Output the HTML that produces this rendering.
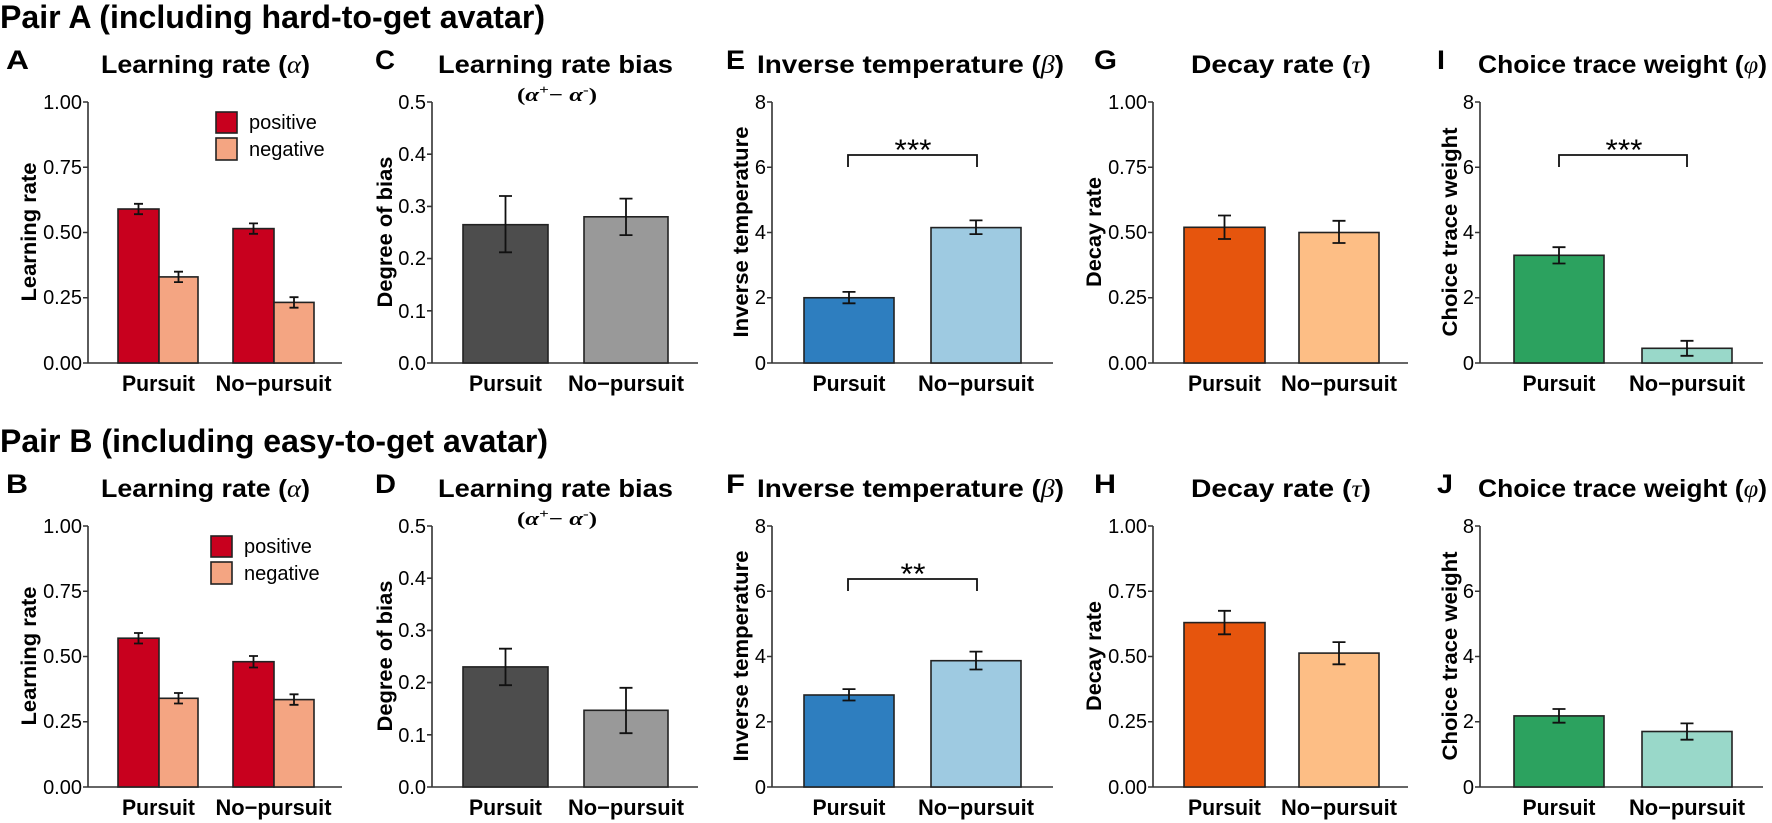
<!DOCTYPE html>
<html><head><meta charset="utf-8"><style>
html,body{margin:0;padding:0;background:#fff;}
svg{display:block;font-family:"Liberation Sans",Arial,sans-serif;}
.big{font-size:32px;font-weight:bold;}
.let{font-size:27px;font-weight:bold;}
.tt{font-size:25px;font-weight:bold;}
.tk{font-size:20px;}
.yl{font-size:21px;font-weight:bold;}
.xl{font-size:22px;font-weight:bold;}
.ax{stroke:#333;stroke-width:1.6;fill:none;}
.bar{stroke:#222;stroke-width:1.6;}
.eb{stroke:#111;stroke-width:1.8;fill:none;}
.br{stroke:#111;stroke-width:1.8;fill:none;}
.st{font-size:30px;}
</style></head><body>
<svg width="1772" height="823" viewBox="0 0 1772 823" xmlns="http://www.w3.org/2000/svg">

<!-- ============ ROW A ============ -->
<g>
<text class="big" x="0" y="28" textLength="545" lengthAdjust="spacingAndGlyphs">Pair A (including hard-to-get avatar)</text>
<text class="let" x="6" y="69" textLength="23" lengthAdjust="spacingAndGlyphs">A</text>
<text class="let" x="375" y="69" textLength="20" lengthAdjust="spacingAndGlyphs">C</text>
<text class="let" x="726" y="69" textLength="19" lengthAdjust="spacingAndGlyphs">E</text>
<text class="let" x="1094" y="69" textLength="23" lengthAdjust="spacingAndGlyphs">G</text>
<text class="let" x="1437" y="69" textLength="8" lengthAdjust="spacingAndGlyphs">I</text>

<text class="tt" x="101" y="73" textLength="209" lengthAdjust="spacingAndGlyphs">Learning rate (<tspan font-family="Liberation Serif" font-style="italic" font-weight="normal">α</tspan>)</text>
<text class="tt" x="438" y="73" textLength="235" lengthAdjust="spacingAndGlyphs">Learning rate bias</text>
<text x="517" y="101" font-size="19" font-weight="bold" font-family="Liberation Serif" textLength="80" lengthAdjust="spacingAndGlyphs">(<tspan font-style="italic">α</tspan><tspan dy="-7" font-size="13">+</tspan><tspan dy="7">− </tspan><tspan font-style="italic">α</tspan><tspan dy="-7" font-size="13">-</tspan><tspan dy="7">)</tspan></text>
<text class="tt" x="757" y="73" textLength="307" lengthAdjust="spacingAndGlyphs">Inverse temperature (<tspan font-family="Liberation Serif" font-style="italic" font-weight="normal">β</tspan>)</text>
<text class="tt" x="1191" y="73" textLength="180" lengthAdjust="spacingAndGlyphs">Decay rate (<tspan font-family="Liberation Serif" font-style="italic" font-weight="normal">τ</tspan>)</text>
<text class="tt" x="1478" y="73" textLength="289" lengthAdjust="spacingAndGlyphs">Choice trace weight (<tspan font-family="Liberation Serif" font-style="italic" font-weight="normal">φ</tspan>)</text>

<!-- Panel A -->
<text class="yl" transform="translate(36,232) rotate(-90)" text-anchor="middle" textLength="139" lengthAdjust="spacingAndGlyphs">Learning rate</text>
<g class="tk" text-anchor="end">
<text x="82" y="109">1.00</text><text x="82" y="174">0.75</text><text x="82" y="239">0.50</text><text x="82" y="304">0.25</text><text x="82" y="370">0.00</text>
</g>
<path class="ax" d="M88 102V363H342M83 102H88M83 167.25H88M83 232.5H88M83 297.75H88M83 363H88"/>
<rect class="bar" x="118" y="209" width="41" height="154" fill="#c8001e"/>
<rect class="bar" x="159" y="276.9" width="39" height="86.1" fill="#f4a582"/>
<rect class="bar" x="233" y="228.6" width="41" height="134.4" fill="#c8001e"/>
<rect class="bar" x="274" y="302.4" width="40" height="60.6" fill="#f4a582"/>
<path class="eb" d="M138.5 203.8V214.2M134 203.8H143M134 214.2H143M178.5 271.7V282.1M174 271.7H183M174 282.1H183M253.5 223.4V233.8M249 223.4H258M249 233.8H258M294 297.2V307.7M289.5 297.2H298.5M289.5 307.7H298.5"/>
<rect class="bar" x="216" y="112" width="21" height="21" fill="#c8001e"/>
<rect class="bar" x="216" y="138" width="21" height="22" fill="#f4a582"/>
<text class="tk" x="249" y="129">positive</text><text class="tk" x="249" y="156">negative</text>
<g class="xl" text-anchor="middle"><text x="158.5" y="391" textLength="73" lengthAdjust="spacingAndGlyphs">Pursuit</text><text x="273.5" y="391" textLength="116" lengthAdjust="spacingAndGlyphs">No−pursuit</text></g>

<!-- Panel C -->
<text class="yl" transform="translate(392,232) rotate(-90)" text-anchor="middle" textLength="151" lengthAdjust="spacingAndGlyphs">Degree of bias</text>
<g class="tk" text-anchor="end">
<text x="426" y="109">0.5</text><text x="426" y="161">0.4</text><text x="426" y="213">0.3</text><text x="426" y="265">0.2</text><text x="426" y="318">0.1</text><text x="426" y="370">0.0</text>
</g>
<path class="ax" d="M432 102V363H698M427 102H432M427 154.2H432M427 206.4H432M427 258.6H432M427 310.8H432M427 363H432"/>
<rect class="bar" x="463" y="224.7" width="85" height="138.3" fill="#4d4d4d"/>
<rect class="bar" x="584" y="216.8" width="84" height="146.2" fill="#999999"/>
<path class="eb" d="M505.5 196V252.3M499 196H512M499 252.3H512M626 198.6V235.1M619.5 198.6H632.5M619.5 235.1H632.5"/>
<g class="xl" text-anchor="middle"><text x="505.5" y="391" textLength="73" lengthAdjust="spacingAndGlyphs">Pursuit</text><text x="626" y="391" textLength="116" lengthAdjust="spacingAndGlyphs">No−pursuit</text></g>

<!-- Panel E -->
<text class="yl" transform="translate(748,232) rotate(-90)" text-anchor="middle" textLength="211" lengthAdjust="spacingAndGlyphs">Inverse temperature</text>
<g class="tk" text-anchor="end">
<text x="766" y="109">8</text><text x="766" y="174">6</text><text x="766" y="239">4</text><text x="766" y="304">2</text><text x="766" y="370">0</text>
</g>
<path class="ax" d="M772 102V363H1053M767 102H772M767 167.25H772M767 232.5H772M767 297.75H772M767 363H772"/>
<rect class="bar" x="804" y="297.75" width="90" height="65.25" fill="#2e7ebf"/>
<rect class="bar" x="931" y="227.6" width="90" height="135.4" fill="#9ecae1"/>
<path class="eb" d="M849 291.9V303.3M842.5 291.9H855.5M842.5 303.3H855.5M976 220.4V234.1M969.5 220.4H982.5M969.5 234.1H982.5"/>
<path class="br" d="M848 167V155H977V167"/>
<text class="st" x="913" y="160" text-anchor="middle" textLength="37" lengthAdjust="spacingAndGlyphs">***</text>
<g class="xl" text-anchor="middle"><text x="849" y="391" textLength="73" lengthAdjust="spacingAndGlyphs">Pursuit</text><text x="976" y="391" textLength="116" lengthAdjust="spacingAndGlyphs">No−pursuit</text></g>

<!-- Panel G -->
<text class="yl" transform="translate(1101,232) rotate(-90)" text-anchor="middle" textLength="110" lengthAdjust="spacingAndGlyphs">Decay rate</text>
<g class="tk" text-anchor="end">
<text x="1147" y="109">1.00</text><text x="1147" y="174">0.75</text><text x="1147" y="239">0.50</text><text x="1147" y="304">0.25</text><text x="1147" y="370">0.00</text>
</g>
<path class="ax" d="M1153 102V363H1408M1148 102H1153M1148 167.25H1153M1148 232.5H1153M1148 297.75H1153M1148 363H1153"/>
<rect class="bar" x="1184" y="227.3" width="81" height="135.7" fill="#e6550d"/>
<rect class="bar" x="1299" y="232.5" width="80" height="130.5" fill="#fdbe85"/>
<path class="eb" d="M1224.5 215.5V239M1218 215.5H1231M1218 239H1231M1339 220.8V243M1332.5 220.8H1345.5M1332.5 243H1345.5"/>
<g class="xl" text-anchor="middle"><text x="1224.5" y="391" textLength="73" lengthAdjust="spacingAndGlyphs">Pursuit</text><text x="1339" y="391" textLength="116" lengthAdjust="spacingAndGlyphs">No−pursuit</text></g>

<!-- Panel I -->
<text class="yl" transform="translate(1457,232) rotate(-90)" text-anchor="middle" textLength="209" lengthAdjust="spacingAndGlyphs">Choice trace weight</text>
<g class="tk" text-anchor="end">
<text x="1474" y="109">8</text><text x="1474" y="174">6</text><text x="1474" y="239">4</text><text x="1474" y="304">2</text><text x="1474" y="370">0</text>
</g>
<path class="ax" d="M1480 102V363H1763M1475 102H1480M1475 167.25H1480M1475 232.5H1480M1475 297.75H1480M1475 363H1480"/>
<rect class="bar" x="1514" y="255.3" width="90" height="107.7" fill="#2ca25f"/>
<rect class="bar" x="1642" y="348.3" width="90" height="14.7" fill="#99d8c9"/>
<path class="eb" d="M1559 247.2V263.5M1552.5 247.2H1565.5M1552.5 263.5H1565.5M1687 340.8V355.8M1680.5 340.8H1693.5M1680.5 355.8H1693.5"/>
<path class="br" d="M1559 167V155H1687V167"/>
<text class="st" x="1624" y="160" text-anchor="middle" textLength="37" lengthAdjust="spacingAndGlyphs">***</text>
<g class="xl" text-anchor="middle"><text x="1559" y="391" textLength="73" lengthAdjust="spacingAndGlyphs">Pursuit</text><text x="1687" y="391" textLength="116" lengthAdjust="spacingAndGlyphs">No−pursuit</text></g>
</g>

<!-- ============ ROW B ============ -->
<g>
<text class="big" x="0" y="452" textLength="548" lengthAdjust="spacingAndGlyphs">Pair B (including easy-to-get avatar)</text>
<text class="let" x="6" y="493" textLength="22" lengthAdjust="spacingAndGlyphs">B</text>
<text class="let" x="375" y="493" textLength="21" lengthAdjust="spacingAndGlyphs">D</text>
<text class="let" x="726" y="493" textLength="19" lengthAdjust="spacingAndGlyphs">F</text>
<text class="let" x="1094" y="493" textLength="22" lengthAdjust="spacingAndGlyphs">H</text>
<text class="let" x="1437" y="493" textLength="16" lengthAdjust="spacingAndGlyphs">J</text>

<text class="tt" x="101" y="497" textLength="209" lengthAdjust="spacingAndGlyphs">Learning rate (<tspan font-family="Liberation Serif" font-style="italic" font-weight="normal">α</tspan>)</text>
<text class="tt" x="438" y="497" textLength="235" lengthAdjust="spacingAndGlyphs">Learning rate bias</text>
<text x="517" y="525" font-size="19" font-weight="bold" font-family="Liberation Serif" textLength="80" lengthAdjust="spacingAndGlyphs">(<tspan font-style="italic">α</tspan><tspan dy="-7" font-size="13">+</tspan><tspan dy="7">− </tspan><tspan font-style="italic">α</tspan><tspan dy="-7" font-size="13">-</tspan><tspan dy="7">)</tspan></text>
<text class="tt" x="757" y="497" textLength="307" lengthAdjust="spacingAndGlyphs">Inverse temperature (<tspan font-family="Liberation Serif" font-style="italic" font-weight="normal">β</tspan>)</text>
<text class="tt" x="1191" y="497" textLength="180" lengthAdjust="spacingAndGlyphs">Decay rate (<tspan font-family="Liberation Serif" font-style="italic" font-weight="normal">τ</tspan>)</text>
<text class="tt" x="1478" y="497" textLength="289" lengthAdjust="spacingAndGlyphs">Choice trace weight (<tspan font-family="Liberation Serif" font-style="italic" font-weight="normal">φ</tspan>)</text>

<!-- Panel B -->
<text class="yl" transform="translate(36,656) rotate(-90)" text-anchor="middle" textLength="139" lengthAdjust="spacingAndGlyphs">Learning rate</text>
<g class="tk" text-anchor="end">
<text x="82" y="533">1.00</text><text x="82" y="598">0.75</text><text x="82" y="663">0.50</text><text x="82" y="728">0.25</text><text x="82" y="794">0.00</text>
</g>
<path class="ax" d="M88 526V787H342M83 526H88M83 591.25H88M83 656.5H88M83 721.75H88M83 787H88"/>
<rect class="bar" x="118" y="638.2" width="41" height="148.8" fill="#c8001e"/>
<rect class="bar" x="159" y="698.3" width="39" height="88.7" fill="#f4a582"/>
<rect class="bar" x="233" y="661.7" width="41" height="125.3" fill="#c8001e"/>
<rect class="bar" x="274" y="699.6" width="40" height="87.4" fill="#f4a582"/>
<path class="eb" d="M138.5 633V643.5M134 633H143M134 643.5H143M178.5 693V703.5M174 693H183M174 703.5H183M253.5 656V667.5M249 656H258M249 667.5H258M294 694.3V704.8M289.5 694.3H298.5M289.5 704.8H298.5"/>
<rect class="bar" x="211" y="536" width="21" height="21" fill="#c8001e"/>
<rect class="bar" x="211" y="562" width="21" height="22" fill="#f4a582"/>
<text class="tk" x="244" y="553">positive</text><text class="tk" x="244" y="580">negative</text>
<g class="xl" text-anchor="middle"><text x="158.5" y="815" textLength="73" lengthAdjust="spacingAndGlyphs">Pursuit</text><text x="273.5" y="815" textLength="116" lengthAdjust="spacingAndGlyphs">No−pursuit</text></g>

<!-- Panel D -->
<text class="yl" transform="translate(392,656) rotate(-90)" text-anchor="middle" textLength="151" lengthAdjust="spacingAndGlyphs">Degree of bias</text>
<g class="tk" text-anchor="end">
<text x="426" y="533">0.5</text><text x="426" y="585">0.4</text><text x="426" y="637">0.3</text><text x="426" y="689">0.2</text><text x="426" y="742">0.1</text><text x="426" y="794">0.0</text>
</g>
<path class="ax" d="M432 526V787H698M427 526H432M427 578.2H432M427 630.4H432M427 682.6H432M427 734.8H432M427 787H432"/>
<rect class="bar" x="463" y="666.9" width="85" height="120.1" fill="#4d4d4d"/>
<rect class="bar" x="584" y="710.3" width="84" height="76.7" fill="#999999"/>
<path class="eb" d="M505.5 648.7V685.2M499 648.7H512M499 685.2H512M626 687.8V733.2M619.5 687.8H632.5M619.5 733.2H632.5"/>
<g class="xl" text-anchor="middle"><text x="505.5" y="815" textLength="73" lengthAdjust="spacingAndGlyphs">Pursuit</text><text x="626" y="815" textLength="116" lengthAdjust="spacingAndGlyphs">No−pursuit</text></g>

<!-- Panel F -->
<text class="yl" transform="translate(748,656) rotate(-90)" text-anchor="middle" textLength="211" lengthAdjust="spacingAndGlyphs">Inverse temperature</text>
<g class="tk" text-anchor="end">
<text x="766" y="533">8</text><text x="766" y="598">6</text><text x="766" y="663">4</text><text x="766" y="728">2</text><text x="766" y="794">0</text>
</g>
<path class="ax" d="M772 526V787H1053M767 526H772M767 591.25H772M767 656.5H772M767 721.75H772M767 787H772"/>
<rect class="bar" x="804" y="695" width="90" height="92" fill="#2e7ebf"/>
<rect class="bar" x="931" y="660.7" width="90" height="126.3" fill="#9ecae1"/>
<path class="eb" d="M849 689.1V700.5M842.5 689.1H855.5M842.5 700.5H855.5M976 651.6V669.5M969.5 651.6H982.5M969.5 669.5H982.5"/>
<path class="br" d="M848 591V579H977V591"/>
<text class="st" x="913" y="584" text-anchor="middle" textLength="25" lengthAdjust="spacingAndGlyphs">**</text>
<g class="xl" text-anchor="middle"><text x="849" y="815" textLength="73" lengthAdjust="spacingAndGlyphs">Pursuit</text><text x="976" y="815" textLength="116" lengthAdjust="spacingAndGlyphs">No−pursuit</text></g>

<!-- Panel H -->
<text class="yl" transform="translate(1101,656) rotate(-90)" text-anchor="middle" textLength="110" lengthAdjust="spacingAndGlyphs">Decay rate</text>
<g class="tk" text-anchor="end">
<text x="1147" y="533">1.00</text><text x="1147" y="598">0.75</text><text x="1147" y="663">0.50</text><text x="1147" y="728">0.25</text><text x="1147" y="794">0.00</text>
</g>
<path class="ax" d="M1153 526V787H1408M1148 526H1153M1148 591.25H1153M1148 656.5H1153M1148 721.75H1153M1148 787H1153"/>
<rect class="bar" x="1184" y="622.6" width="81" height="164.4" fill="#e6550d"/>
<rect class="bar" x="1299" y="653.1" width="80" height="133.9" fill="#fdbe85"/>
<path class="eb" d="M1224.5 610.8V634.3M1218 610.8H1231M1218 634.3H1231M1339 642.1V664.3M1332.5 642.1H1345.5M1332.5 664.3H1345.5"/>
<g class="xl" text-anchor="middle"><text x="1224.5" y="815" textLength="73" lengthAdjust="spacingAndGlyphs">Pursuit</text><text x="1339" y="815" textLength="116" lengthAdjust="spacingAndGlyphs">No−pursuit</text></g>

<!-- Panel J -->
<text class="yl" transform="translate(1457,656) rotate(-90)" text-anchor="middle" textLength="209" lengthAdjust="spacingAndGlyphs">Choice trace weight</text>
<g class="tk" text-anchor="end">
<text x="1474" y="533">8</text><text x="1474" y="598">6</text><text x="1474" y="663">4</text><text x="1474" y="728">2</text><text x="1474" y="794">0</text>
</g>
<path class="ax" d="M1480 526V787H1763M1475 526H1480M1475 591.25H1480M1475 656.5H1480M1475 721.75H1480M1475 787H1480"/>
<rect class="bar" x="1514" y="715.9" width="90" height="71.1" fill="#2ca25f"/>
<rect class="bar" x="1642" y="731.5" width="90" height="55.5" fill="#99d8c9"/>
<path class="eb" d="M1559 709V722.7M1552.5 709H1565.5M1552.5 722.7H1565.5M1687 723.4V739.7M1680.5 723.4H1693.5M1680.5 739.7H1693.5"/>
<g class="xl" text-anchor="middle"><text x="1559" y="815" textLength="73" lengthAdjust="spacingAndGlyphs">Pursuit</text><text x="1687" y="815" textLength="116" lengthAdjust="spacingAndGlyphs">No−pursuit</text></g>
</g>
</svg>
</body></html>
